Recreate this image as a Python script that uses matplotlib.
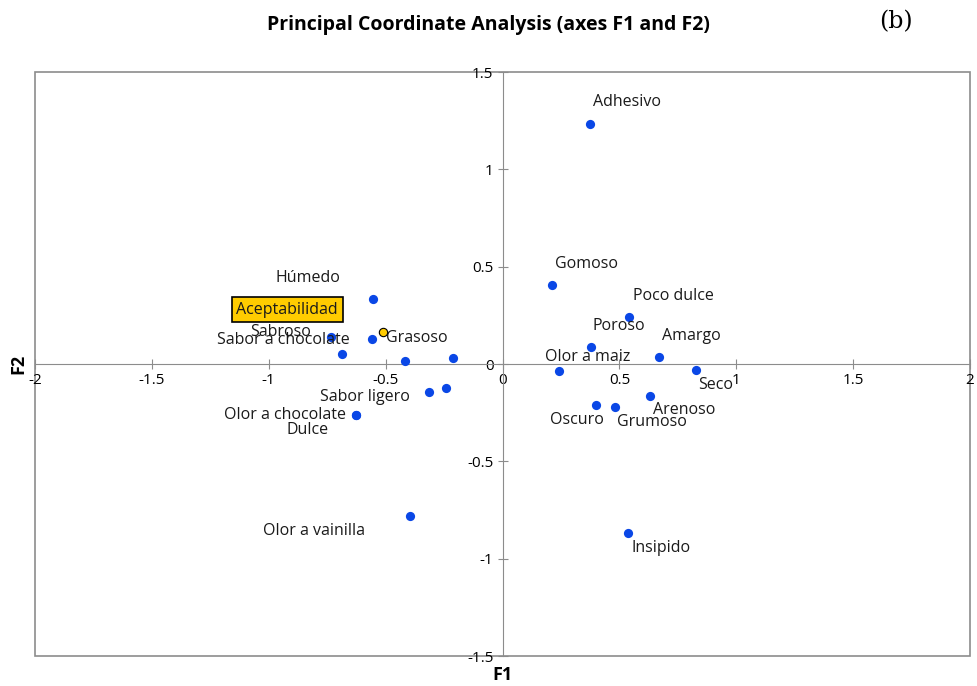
import matplotlib
matplotlib.use("Agg")
import matplotlib.pyplot as plt
from matplotlib.patches import Rectangle

# attribute coordinates
names = ["Adhesivo", "Gomoso", "Poco dulce", "Poroso", "Amargo", "Olor a maiz",
         "Seco", "Arenoso", "Oscuro", "Grumoso", "Insipido",
         "Húmedo", "Sabroso", "Grasoso", "Sabor a chocolate", "Sabor ligero",
         "Olor a chocolate", "Dulce", "Olor a vainilla", "", "", ""]
f1 = [0.375, 0.210, 0.542, 0.378, 0.669, 0.242,
      0.827, 0.632, 0.399, 0.481, 0.537,
      -0.555, -0.733, -0.559, -0.686, -0.315,
      -0.627, -0.627, -0.395, -0.419, -0.212, -0.243]
f2 = [1.233, 0.404, 0.240, 0.086, 0.036, -0.036,
      -0.032, -0.162, -0.212, -0.221, -0.868,
      0.332, 0.137, 0.128, 0.050, -0.145,
      -0.260, -0.260, -0.779, 0.017, 0.029, -0.125]
# label offsets in pixels (dx, dy)
offsets = [(37, 22), (35, 21), (44, 21), (28, 21), (32, 21), (29, 14),
           (20, -15), (34, -14), (-19, -15), (37, -15), (33, -15),
           (-65, 21), (-51, 5), (45, 1), (-59, 14), (-64, -5),
           (-71, 0), (-48, -15), (-96, -15), (0, 0), (0, 0), (0, 0)]

sup_name = "Aceptabilidad"
sup_f1, sup_f2 = -0.510, 0.166

xticks = [-2, -1.5, -1, -0.5, 0, 0.5, 1, 1.5, 2]
yticks = [-1.5, -1, -0.5, 0, 0.5, 1, 1.5]

plt.rcParams['font.family'] = ['Open Sans', 'DejaVu Sans']

fig = plt.figure(figsize=(9.77, 6.86), dpi=100)
ax = fig.add_axes([35 / 977, 30 / 686, 935 / 977, 584 / 686])
ax.set_xlim(-2, 2)
ax.set_ylim(-1.5, 1.5)

grey = "#8c8c8c"
for s in ["top", "right"]:
    ax.spines[s].set_visible(False)
ax.spines["left"].set_position("zero")
ax.spines["bottom"].set_position("zero")
ax.spines["left"].set_color(grey)
ax.spines["bottom"].set_color(grey)
ax.add_patch(Rectangle((0, 0), 1, 1, transform=ax.transAxes, fill=False,
                       edgecolor=grey, lw=1.2, clip_on=False))

ax.set_xticks(xticks)
ax.set_yticks(yticks)
ax.set_xticklabels([f"{v:g}" for v in xticks])
ax.set_yticklabels([f"{v:g}" for v in yticks])
ax.tick_params(direction="inout", length=7, color=grey, labelsize=11, pad=3)

ax.scatter(f1, f2, s=44, color="#0a47e6", zorder=3, linewidths=0)
ax.scatter([sup_f1], [sup_f2], s=36, color="#ffcc00", edgecolors="black",
           linewidths=0.8, zorder=4)

for n, x, y, (dx, dy) in zip(names, f1, f2, offsets):
    if n:
        ax.annotate(n, (x, y), xytext=(dx, dy), textcoords="offset pixels",
                    ha="center", va="center", fontsize=11.5, color="#1a1a1a")

ax.annotate(sup_name, (sup_f1, sup_f2), xytext=(-96, 22), textcoords="offset pixels",
            ha="center", va="center", fontsize=11.5, color="#1a1a1a",
            bbox=dict(boxstyle="square,pad=0.3", fc="#ffcc00", ec="black", lw=1.2))

fig.text(488 / 977, 1 - 25 / 686, "Principal Coordinate Analysis (axes F1 and F2)",
         ha="center", va="center", fontsize=14, fontweight="bold")
fig.text(896 / 977, 1 - 22 / 686, "(b)", ha="center", va="center", fontsize=17,
         family="DejaVu Serif")
fig.text(503 / 977, 1 - 675 / 686, "F1", ha="center", va="center", fontsize=13,
         fontweight="bold")
fig.text(18 / 977, 1 - 364 / 686, "F2", ha="center", va="center", fontsize=13,
         fontweight="bold", rotation=90)

fig.savefig("out.png", dpi=100)
